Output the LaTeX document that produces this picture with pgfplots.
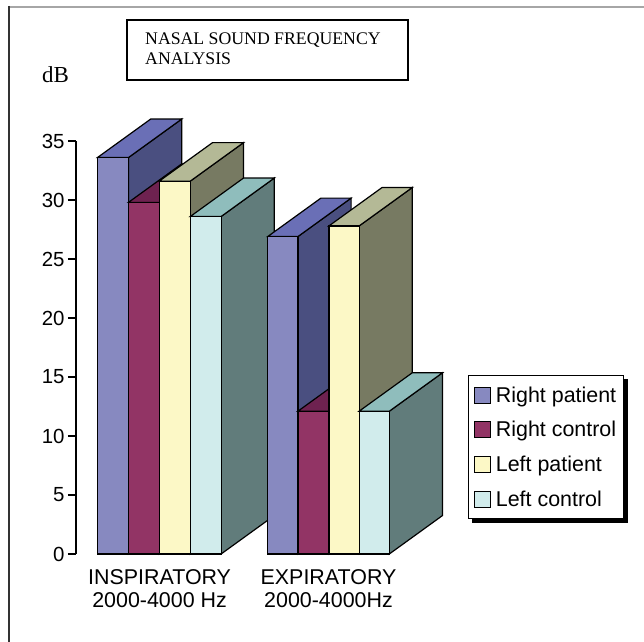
\documentclass[border=0pt]{standalone}
\usepackage{pgfplots}
\pgfplotsset{compat=1.18}
\usepackage{fontspec}
\setmainfont{Liberation Serif}
\newfontfamily\arial{Liberation Sans}
\usetikzlibrary{backgrounds}

\definecolor{rpF}{HTML}{8789C0}\definecolor{rpT}{HTML}{6A6FB6}\definecolor{rpS}{HTML}{4A4F80}
\definecolor{rcF}{HTML}{923465}\definecolor{rcT}{HTML}{6E2250}\definecolor{rcS}{HTML}{5A1C42}
\definecolor{lpF}{HTML}{FCF8C6}\definecolor{lpT}{HTML}{B4B996}\definecolor{lpS}{HTML}{777A62}
\definecolor{lcF}{HTML}{D1ECEC}\definecolor{lcT}{HTML}{8FBDBC}\definecolor{lcS}{HTML}{617C7B}

% depth offset of the pseudo-3D bars (x in px units, y in dB)
\def\DX{53.2}
\def\DY{3.26}
% #1 left x, #2 width, #3 value, #4 front, #5 top, #6 side
\newcommand{\threedbar}[6]{%
  \pgfmathsetmacro\xa{#1}%
  \pgfmathsetmacro\xb{#1+#2}%
  \pgfmathsetmacro\xc{#1+#2+\DX}%
  \pgfmathsetmacro\xd{#1+\DX}%
  \pgfmathsetmacro\yt{#3+\DY}%
  \addplot[forget plot,fill=#6,draw=black,line width=1.2bp] coordinates {(\xb,0) (\xc,\DY) (\xc,\yt) (\xb,#3)} -- cycle;
  \addplot[forget plot,fill=#5,draw=black,line width=1.2bp] coordinates {(\xa,#3) (\xb,#3) (\xc,\yt) (\xd,\yt)} -- cycle;
  \addplot[forget plot,fill=#4,draw=black,line width=1.2bp] coordinates {(\xa,0) (\xb,0) (\xb,#3) (\xa,#3)} -- cycle;
}

\begin{document}
\begin{tikzpicture}
\useasboundingbox (0,0) rectangle (644bp,642bp);
% frame of the original figure
\draw[line width=2bp,color=black!35] (9bp,635bp) -- (644bp,635bp);
\draw[line width=1.3bp,color=black!80] (9bp,636bp) -- (9bp,0bp);

\begin{axis}[
  at={(76bp,88bp)}, anchor=south west,
  scale only axis, width=568bp, height=413bp,
  xmin=76, xmax=644, ymin=0, ymax=35,
  enlargelimits=false, clip=false,
  axis x line*=bottom, axis y line*=left,
  x axis line style={draw=none},
  y axis line style={-, line width=1.3bp},
  ytick={0,5,...,35},
  tick align=outside, major tick length=8bp,
  ytick style={line width=1.2bp, black},
  xtick style={draw=none},
  xtick={159.6,328.5},
  xticklabels={{INSPIRATORY\\2000-4000 Hz},{EXPIRATORY\\2000-4000Hz}},
  xticklabel style={align=center, font=\arial\fontsize{21.5}{23.5}\selectfont, yshift=-4bp},
  yticklabel style={font=\arial\fontsize{20.5}{24}\selectfont},
  /pgf/number format/assume math mode=true,
  legend image code/.code={\draw[#1,line width=1bp] (0bp,-8bp) rectangle (16bp,8bp);},
  legend cell align=left,
  legend style={name=leg, at={(0.690,0.4334)}, anchor=north west, draw=black, line width=1bp,
    font=\arial\fontsize{21.5}{24}\selectfont,
    fill=white,
    row sep=14.7bp, column sep=3bp, inner xsep=6bp, inner ysep=9.5bp,
    nodes={inner sep=1.5bp}},
]
% INSPIRATORY group
\threedbar{97.5}{31.0}{33.6}{rpF}{rpT}{rpS}
\threedbar{128.5}{30.8}{29.8}{rcF}{rcT}{rcS}
\threedbar{159.3}{31.0}{31.6}{lpF}{lpT}{lpS}
\threedbar{190.3}{30.8}{28.6}{lcF}{lcT}{lcS}
% EXPIRATORY group
\threedbar{267.7}{30.2}{26.9}{rpF}{rpT}{rpS}
\threedbar{297.9}{31.0}{12.1}{rcF}{rcT}{rcS}
\threedbar{328.9}{30.2}{27.8}{lpF}{lpT}{lpS}
\threedbar{359.1}{30.2}{12.1}{lcF}{lcT}{lcS}

\addlegendimage{fill=rpF,draw=black}\addlegendentry{Right patient}
\addlegendimage{fill=rcF,draw=black}\addlegendentry{Right control}
\addlegendimage{fill=lpF,draw=black}\addlegendentry{Left patient}
\addlegendimage{fill=lcF,draw=black}\addlegendentry{Left control}
\end{axis}
% legend shadow
\begin{pgfonlayer}{background}
\fill[black] ([xshift=4bp,yshift=-4bp]leg.south west) rectangle ([xshift=4bp,yshift=-4bp]leg.north east);
\end{pgfonlayer}

% title box
\draw[line width=1.3bp] (127bp,562bp) rectangle (408bp,622bp);
\node[anchor=base west, inner sep=0pt, font=\fontsize{17.8}{20}\selectfont] at (145bp,597bp) {NASAL SOUND FREQUENCY};
\node[anchor=base west, inner sep=0pt, font=\fontsize{17.8}{20}\selectfont] at (145bp,577bp) {ANALYSIS};
% unit label
\node[anchor=base west, inner sep=0pt, font=\fontsize{23}{26}\selectfont] at (42bp,559bp) {dB};
\end{tikzpicture}
\end{document}
